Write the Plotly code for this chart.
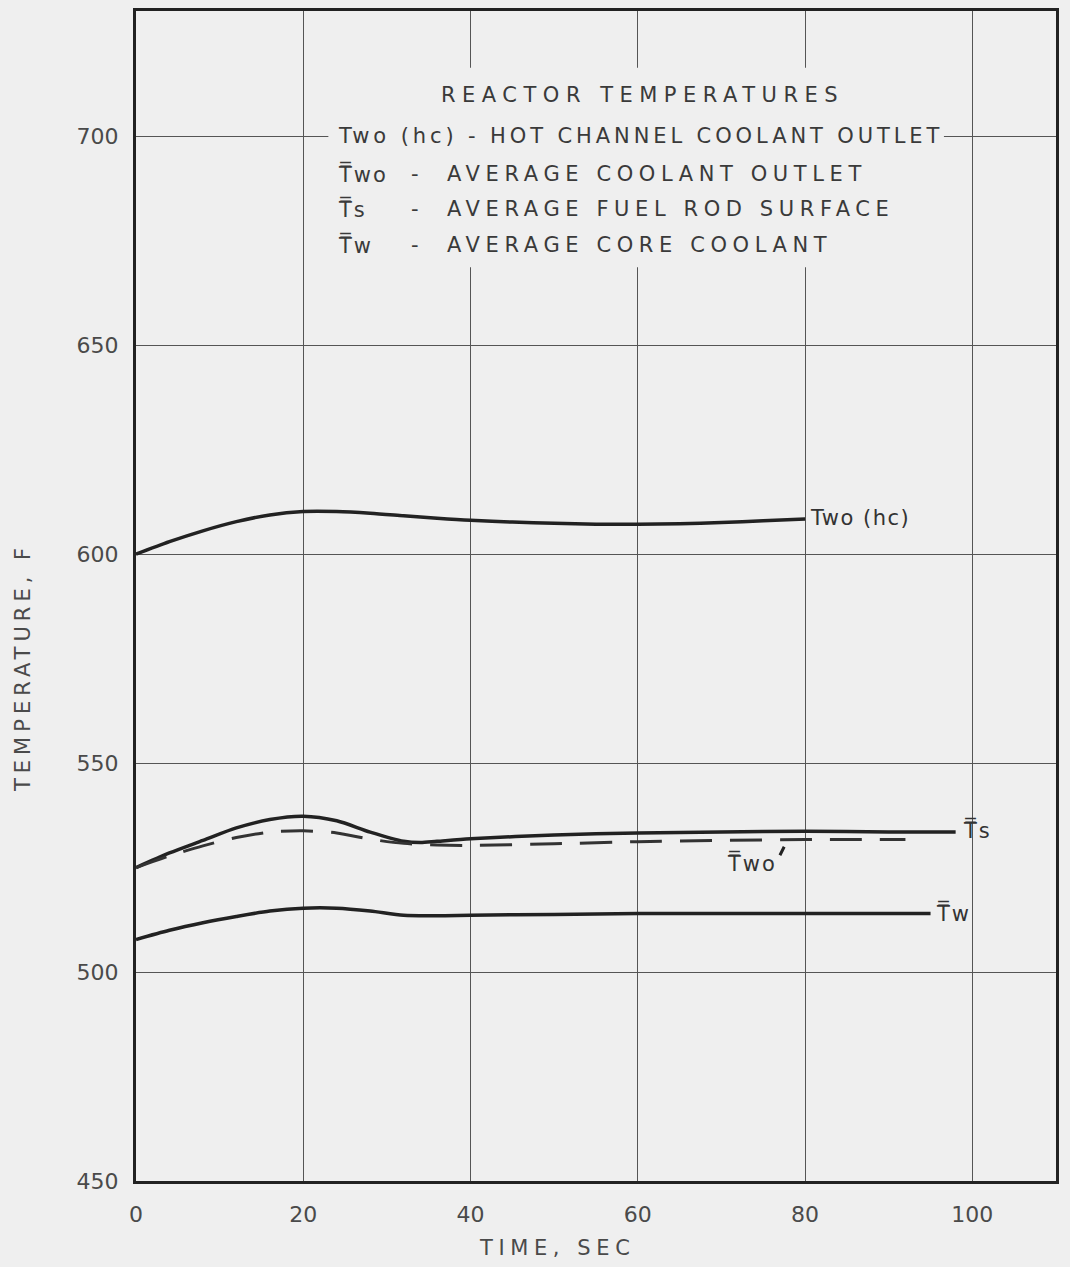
import plotly.graph_objects as go

# ---- data ----
hc_x = [0, 4, 8, 12, 16, 20, 24, 28, 32, 36, 40, 45, 50, 55, 60, 65, 70, 75, 80]
hc_y = [600, 603, 605.6, 607.8, 609.4, 610.2, 610.2, 609.8, 609.2, 608.6, 608.1, 607.7, 607.4, 607.2, 607.2, 607.3, 607.6, 608.0, 608.4]

ts_x = [0, 4, 8, 12, 16, 20, 24, 28, 32, 34, 36, 40, 50, 60, 70, 80, 90, 98]
ts_y = [525, 528.5, 531.5, 534.5, 536.5, 537.3, 536.2, 533.5, 531.3, 531.0, 531.3, 531.9, 532.8, 533.3, 533.5, 533.7, 533.5, 533.5]

two_x = [0, 4, 8, 12, 16, 20, 24, 28, 32, 36, 40, 50, 60, 70, 80, 92]
two_y = [525, 527.8, 530.2, 532.2, 533.5, 533.8, 533.3, 531.8, 530.8, 530.4, 530.3, 530.7, 531.2, 531.5, 531.7, 531.7]

tw_x = [0, 4, 8, 12, 16, 20, 24, 28, 32, 36, 40, 50, 60, 70, 80, 95]
tw_y = [507.8, 510, 511.8, 513.3, 514.6, 515.3, 515.3, 514.6, 513.6, 513.5, 513.6, 513.8, 514.0, 514.0, 514.0, 514.0]

x_ticks = [0, 20, 40, 60, 80, 100]
y_ticks = [450, 500, 550, 600, 650, 700]

TB = "T\u033f"  # T with double overline
title_text = "REACTOR TEMPERATURES"
legend_sym = ["Two (hc) - HOT CHANNEL COOLANT OUTLET", TB + "wo", TB + "s", TB + "w"]
legend_desc = [None, "AVERAGE COOLANT OUTLET", "AVERAGE FUEL ROD SURFACE", "AVERAGE CORE COOLANT"]

BG = "#efefef"
INK = "#222222"
FONT = "DejaVu Sans"


def spaced(s, px):
    return '<span style="letter-spacing:%spx">%s</span>' % (px, s)


fig = go.Figure()
line_style = dict(color=INK, width=3.5, shape="spline", smoothing=0.8)
fig.add_trace(go.Scatter(x=hc_x, y=hc_y, mode="lines", line=line_style, showlegend=False))
fig.add_trace(go.Scatter(x=ts_x, y=ts_y, mode="lines", line=line_style, showlegend=False))
fig.add_trace(go.Scatter(x=two_x, y=two_y, mode="lines",
                         line=dict(color="#333333", width=3, shape="spline", smoothing=0.8, dash="32px,18px"),
                         showlegend=False))
fig.add_trace(go.Scatter(x=tw_x, y=tw_y, mode="lines", line=line_style, showlegend=False))

# box hiding gridlines behind the key text
fig.add_shape(type="rect", xref="x", yref="y", x0=23, x1=96.6, y0=668.7, y1=716.4,
              fillcolor=BG, line=dict(width=0), layer="above")

annos = []
txtfont = dict(family=FONT, size=21, color="#3a3a3a")
annos.append(dict(x=60.5, y=710, xref="x", yref="y", text=spaced(title_text, 6.5), showarrow=False,
                  font=txtfont, xanchor="center", yanchor="middle"))
ys = [700.2, 691.1, 682.5, 673.9]
annos.append(dict(x=23.9, y=ys[0], xref="x", yref="y", text=spaced(legend_sym[0], 3.9), showarrow=False,
                  font=txtfont, xanchor="left", yanchor="middle"))
for i in range(1, 4):
    annos.append(dict(x=23.9, y=ys[i], xref="x", yref="y", text=spaced(legend_sym[i], 2), showarrow=False,
                      font=txtfont, xanchor="left", yanchor="middle"))
    annos.append(dict(x=33.3, y=ys[i], xref="x", yref="y", text="-", showarrow=False,
                      font=txtfont, xanchor="center", yanchor="middle"))
    annos.append(dict(x=36.9, y=ys[i], xref="x", yref="y", text=spaced(legend_desc[i], 5.6), showarrow=False,
                      font=txtfont, xanchor="left", yanchor="middle"))

curvefont = dict(family=FONT, size=21, color="#333333")
annos.append(dict(x=hc_x[-1] + 0.3, y=hc_y[-1] + 0.2, xref="x", yref="y", text=spaced("Two (hc)", 1.5),
                  showarrow=False, font=curvefont, xanchor="left", yanchor="middle"))
annos.append(dict(x=ts_x[-1] + 0.6, y=ts_y[-1] + 0.5, xref="x", yref="y", text=spaced(TB + "s", 2),
                  showarrow=False, font=curvefont, xanchor="left", yanchor="middle"))
annos.append(dict(x=tw_x[-1] + 0.4, y=tw_y[-1] + 0.2, xref="x", yref="y", text=spaced(TB + "w", 2),
                  showarrow=False, font=curvefont, xanchor="left", yanchor="middle"))
annos.append(dict(x=73.7, y=526.0, xref="x", yref="y", text=spaced(TB + "wo", 2), showarrow=False,
                  font=curvefont, xanchor="center", yanchor="middle"))
annos.append(dict(x=77.5, y=530.0, xref="x", yref="y", text="", showarrow=True,
                  arrowhead=0, arrowwidth=3, arrowcolor=INK, ax=-5, ay=10,
                  standoff=0, startstandoff=0))

annos.append(dict(x=0.0, y=0.5, xref="paper", yref="paper", text=spaced("TEMPERATURE, F", 5), showarrow=False,
                  textangle=-90, font=dict(family=FONT, size=21, color="#4a4a4a"),
                  xanchor="center", yanchor="middle", xshift=-113, yshift=-72))
annos.append(dict(x=0.5, y=0.0, xref="paper", yref="paper", text=spaced("TIME, SEC", 5.6), showarrow=False,
                  font=dict(family=FONT, size=21, color="#4a4a4a"),
                  xanchor="center", yanchor="middle", xshift=-39, yshift=-67))

fig.update_layout(
    width=1070, height=1267,
    margin=dict(l=136, r=14, t=8, b=86),
    paper_bgcolor=BG, plot_bgcolor=BG,
    annotations=annos,
    font=dict(family=FONT),
)
fig.update_xaxes(range=[0, 110], tickvals=x_ticks, ticktext=[str(v) for v in x_ticks],
                 showgrid=True, gridcolor="#555555", gridwidth=1, zeroline=False,
                 showline=True, linecolor=INK, linewidth=3, mirror=True,
                 ticks="", ticklabelstandoff=12, tickfont=dict(family=FONT, size=22, color="#4a4a4a"))
fig.update_yaxes(range=[450, 730], tickvals=y_ticks, ticktext=[str(v) for v in y_ticks],
                 showgrid=True, gridcolor="#555555", gridwidth=1, zeroline=False,
                 showline=True, linecolor=INK, linewidth=3, mirror=True,
                 ticks="", ticklabelstandoff=10, tickfont=dict(family=FONT, size=22, color="#4a4a4a"))

fig.write_html("out.html")
